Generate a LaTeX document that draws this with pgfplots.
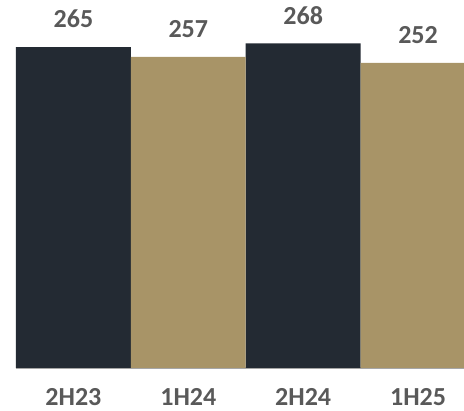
\documentclass[border=0pt]{standalone}
\usepackage{pgfplots}
\pgfplotsset{compat=1.18}
\usepackage{fontspec}
\setmainfont{Carlito}
\definecolor{navy}{HTML}{232A33}
\definecolor{sand}{HTML}{A89467}
\definecolor{labelgray}{HTML}{595959}
\definecolor{basegray}{HTML}{A6A6A6}
\begin{document}
\begin{tikzpicture}
\useasboundingbox (0,0) rectangle (464pt,411pt);
\begin{axis}[
  at={(16pt,43pt)}, anchor=south west,
  scale only axis, width=448pt, height=368pt,
  xmin=-0.5, xmax=3.4, ymin=0, ymax=303.9,
  ybar, bar width=1, bar shift=0pt,
  axis x line*=bottom, axis y line=none,
  axis line style={draw=basegray, line width=1.5pt},
  xtick={0,1,2,3}, xticklabels={2H23,1H24,2H24,1H25},
  major tick length=0pt,
  xticklabel style={anchor=center, yshift=-29pt, inner sep=0pt, text=labelgray,
    font=\fontsize{26}{31}\selectfont\bfseries},
  /pgf/number format/assume math mode=true,
  nodes near coords,
  every node near coord/.append style={anchor=center, yshift=28pt,
    text=labelgray, font=\fontsize{26}{31}\selectfont\bfseries},
  clip=true,
]
\addplot[fill=navy, draw=none] coordinates {(0,265) (2,268)};
\addplot[fill=sand, draw=none] coordinates {(1,257) (3,252)};
\end{axis}
\end{tikzpicture}
\end{document}
